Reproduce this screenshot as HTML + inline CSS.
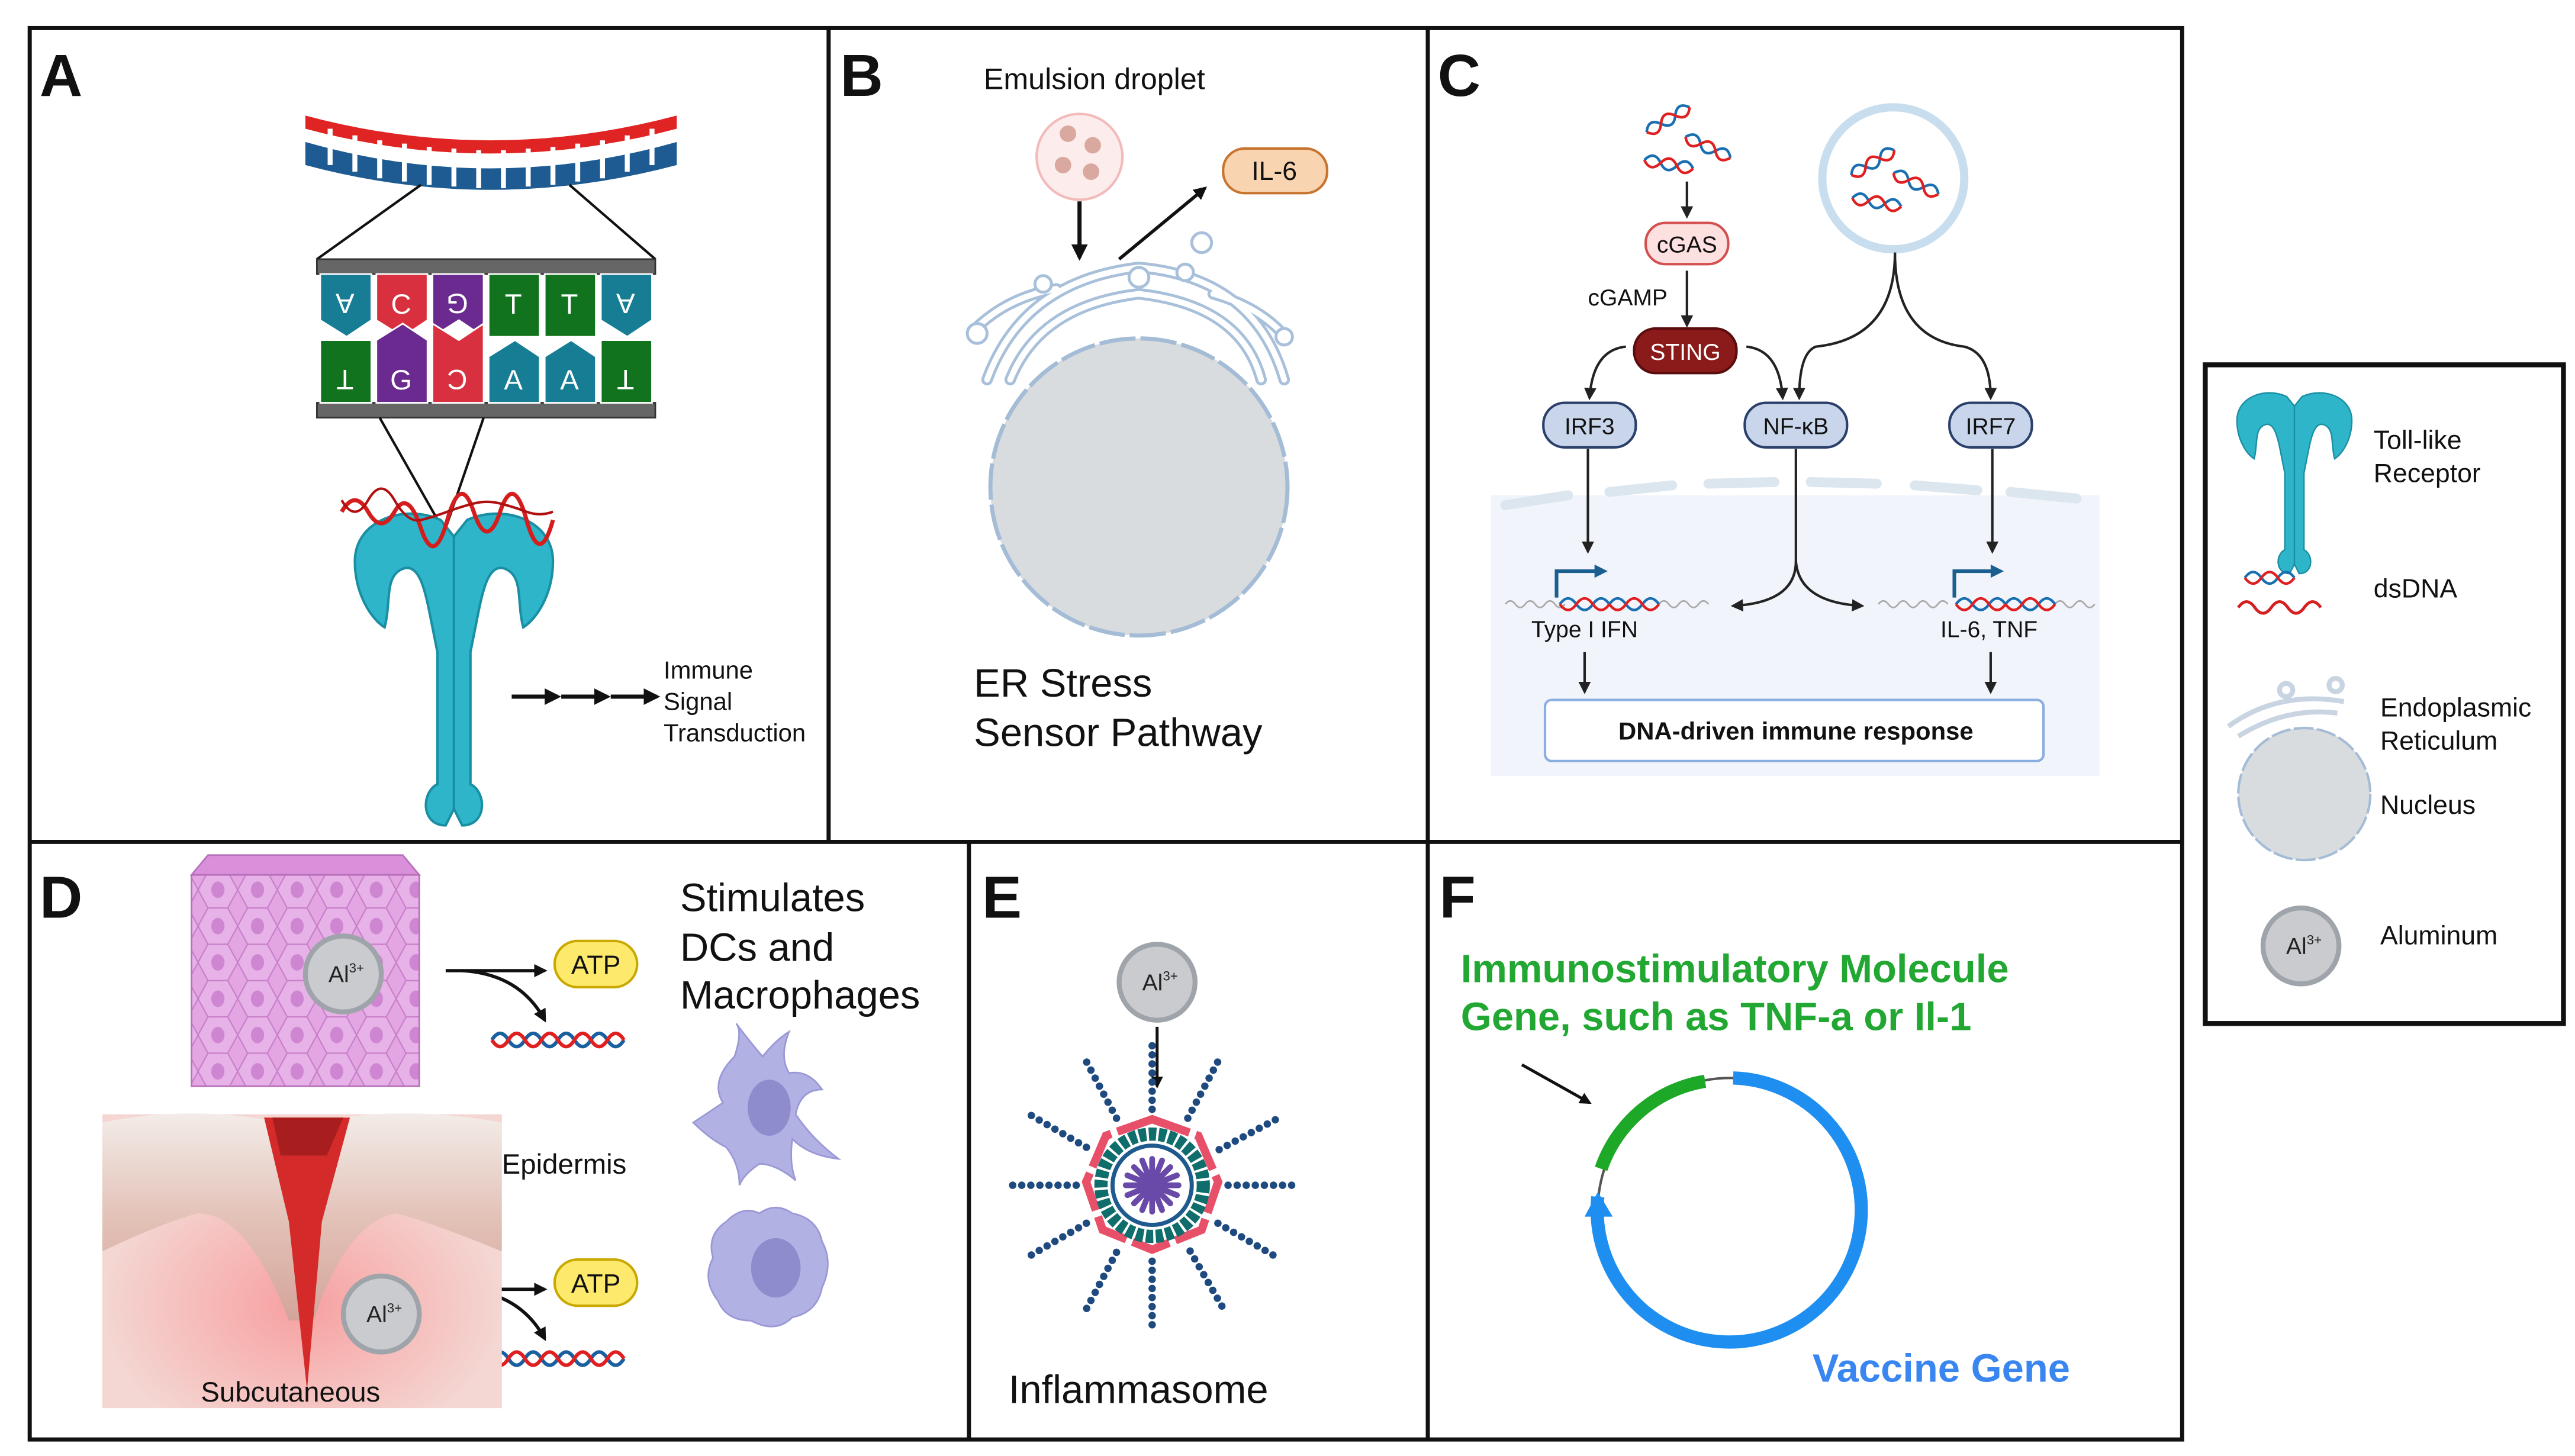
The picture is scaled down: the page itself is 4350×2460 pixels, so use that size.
<!DOCTYPE html>
<html><head><meta charset="utf-8"><style>
html,body{margin:0;padding:0;background:#fff;}
svg{display:block;}
text{font-family:"Liberation Sans",sans-serif;}
</style></head><body>
<svg width="4350" height="2460" viewBox="0 0 1560 882" preserveAspectRatio="none" xmlns="http://www.w3.org/2000/svg">
<defs>
<marker id="ah" viewBox="0 0 10 10" refX="8" refY="5" markerWidth="5" markerHeight="5" orient="auto"><path d="M0,0 L10,5 L0,10 z" fill="#222"/></marker>
<marker id="ahb" viewBox="0 0 10 10" refX="8" refY="5" markerWidth="4" markerHeight="4" orient="auto"><path d="M0,0 L10,5 L0,10 z" fill="#111"/></marker>
<pattern id="cells" width="24" height="22" patternUnits="userSpaceOnUse">
<rect width="24" height="22" fill="#e3a6e3"/>
<path d="M0,11 L6,0 L18,0 L24,11 L18,22 L6,22 Z" fill="#e7b2e7" stroke="#c77fc9" stroke-width="0.8"/>
<ellipse cx="12" cy="11" rx="4" ry="5" fill="#cf86d2"/>
</pattern>
<radialGradient id="skinr" cx="0.5" cy="0.65" r="0.5"><stop offset="0" stop-color="#f7a0a0"/><stop offset="1" stop-color="#f4d6d2"/></radialGradient>
<linearGradient id="epi" x1="0" y1="0" x2="0" y2="1"><stop offset="0" stop-color="#f3ece8"/><stop offset="0.5" stop-color="#e3c2b8"/><stop offset="1" stop-color="#d4a49a"/></linearGradient>
<g id="dna">
<path d="M0,0 q5,-8 10,0 t10,0 t10,0 t10,0 t10,0 t10,0 t10,0 t10,0" fill="none" stroke="#1a5fa0" stroke-width="2.2"/>
<path d="M0,0 q5,8 10,0 t10,0 t10,0 t10,0 t10,0 t10,0 t10,0 t10,0" fill="none" stroke="#e02020" stroke-width="2.2"/>
</g>
<g id="sdna">
<path d="M0,0 q5,-7 10,0 t10,0 t10,0" fill="none" stroke="#1a6fb0" stroke-width="1.6"/>
<path d="M0,0 q5,7 10,0 t10,0 t10,0" fill="none" stroke="#e02020" stroke-width="1.6"/>
</g>
<g id="al">
<circle r="23" fill="#c9cbcf" stroke="#9fa4aa" stroke-width="3"/>
<text x="-9" y="5" font-size="14" fill="#222">Al<tspan font-size="8" dy="-6">3+</tspan></text>
</g>
<g id="tlr">
<path d="M-8,-60 C-30,-70 -60,-60 -60,-35 C-60,-15 -50,0 -42,5 C-38,-10 -42,-25 -32,-30 C-22,-35 -18,-20 -15,-5 L-10,20 L-10,100 C-20,105 -20,125 -5,125 L0,115 L5,125 C20,125 20,105 10,100 L10,20 L15,-5 C18,-20 22,-35 32,-30 C42,-25 38,-10 42,5 C50,0 60,-15 60,-35 C60,-60 30,-70 8,-60 L0,-50 Z" fill="#2fb5c9" stroke="#1a8fa3" stroke-width="1.5"/>
<path d="M0,-50 L0,115" stroke="#1a8fa3" stroke-width="1.5"/>
</g>
</defs>

<g fill="none" stroke="#111" stroke-width="2.5">
<rect x="18" y="17" width="1304" height="855"/>
<line x1="18" y1="510" x2="1322" y2="510"/>
<line x1="502" y1="17" x2="502" y2="510"/>
<line x1="865" y1="17" x2="865" y2="872"/>
<line x1="587" y1="510" x2="587" y2="872"/>
<rect x="1336" y="221" width="217" height="399" stroke-width="3"/>
</g>
<g font-weight="bold" font-size="36" fill="#111">
<text x="24" y="58">A</text><text x="509" y="58">B</text><text x="871" y="58">C</text>
<text x="24" y="556">D</text><text x="595" y="556">E</text><text x="872" y="556">F</text>
</g>

<!-- Panel A -->
<path d="M185,70 Q297,100 410,70 L410,78 Q297,108 185,78 Z" fill="#e02424"/>
<path d="M185,86 Q297,118 410,86 L410,100 Q297,130 185,100 Z" fill="#1e5b92"/>
<g stroke="#fff" stroke-width="3">
<line x1="200" y1="78" x2="200" y2="100"/><line x1="215" y1="82" x2="215" y2="104"/><line x1="230" y1="85" x2="230" y2="108"/><line x1="245" y1="87" x2="245" y2="110"/><line x1="260" y1="89" x2="260" y2="112"/><line x1="275" y1="90" x2="275" y2="113"/><line x1="290" y1="91" x2="290" y2="114"/><line x1="305" y1="91" x2="305" y2="114"/><line x1="320" y1="90" x2="320" y2="113"/><line x1="335" y1="89" x2="335" y2="112"/><line x1="350" y1="87" x2="350" y2="110"/><line x1="365" y1="85" x2="365" y2="108"/><line x1="380" y1="82" x2="380" y2="104"/><line x1="395" y1="78" x2="395" y2="100"/>
</g>
<line x1="255" y1="112" x2="192" y2="157" stroke="#111" stroke-width="1.5"/>
<line x1="345" y1="112" x2="397" y2="157" stroke="#111" stroke-width="1.5"/>
<rect x="192" y="157" width="205" height="9" fill="#666" stroke="#333"/>
<rect x="192" y="244" width="205" height="9" fill="#666" stroke="#333"/>
<g stroke="#fff" stroke-width="1">
<path d="M194,166h31v28l-15,10l-16,-10z" fill="#167d95"/>
<path d="M228,166h31v28l-15,10l-16,-10z" fill="#d8303f"/>
<path d="M262,166h31v38l-15,-10l-16,10z" fill="#6a2a8f"/>
<path d="M296,166h31v38h-31z" fill="#11731e"/>
<path d="M330,166h31v38h-31z" fill="#11731e"/>
<path d="M364,166h31v28l-15,10l-16,-10z" fill="#167d95"/>
<path d="M194,206h31v38h-31z" fill="#11731e"/>
<path d="M228,206l16,-10l15,10v38h-31z" fill="#6a2a8f"/>
<path d="M262,196l16,10l15,-10v48h-31z" fill="#d8303f"/>
<path d="M296,216l16,-10l15,10v28h-31z" fill="#167d95"/>
<path d="M330,216l16,-10l15,10v28h-31z" fill="#167d95"/>
<path d="M364,206h31v38h-31z" fill="#11731e"/>
</g>
<g fill="#fff" font-size="17" text-anchor="middle">
<text x="209" y="190" transform="rotate(180 209 184)">A</text><text x="243" y="190">C</text><text x="277" y="190" transform="rotate(180 277 184)">G</text><text x="311" y="190">T</text><text x="345" y="190">T</text><text x="379" y="190" transform="rotate(180 379 184)">A</text>
<text x="209" y="236" transform="rotate(180 209 230)">T</text><text x="243" y="236">G</text><text x="277" y="236" transform="rotate(180 277 230)">C</text><text x="311" y="236">A</text><text x="345" y="236">A</text><text x="379" y="236" transform="rotate(180 379 230)">T</text>
</g>
<line x1="230" y1="253" x2="268" y2="320" stroke="#111" stroke-width="1.5"/>
<line x1="293" y1="253" x2="270" y2="320" stroke="#111" stroke-width="1.5"/>
<use href="#tlr" x="275" y="375"/>
<path d="M207,310 q8,-14 16,0 t16,0 t16,10 t16,-5 t16,-5 t16,0 t16,5 t16,0" fill="none" stroke="#d41e1e" stroke-width="2.5"/>
<path d="M207,303 q8,14 16,0 t16,0 t16,12 t16,-5 t16,-5 t16,0 t16,5 t16,0" fill="none" stroke="#b01010" stroke-width="1.5"/>
<g stroke="#111" stroke-width="2.5" marker-end="url(#ahb)">
<line x1="310" y1="422" x2="338" y2="422"/><line x1="340" y1="422" x2="368" y2="422"/><line x1="370" y1="422" x2="398" y2="422"/>
</g>
<g font-size="15" fill="#111"><text x="402" y="411">Immune</text><text x="402" y="430">Signal</text><text x="402" y="449">Transduction</text></g>

<!-- Panel B -->
<text x="596" y="54" font-size="18" fill="#111">Emulsion droplet</text>
<circle cx="654" cy="95" r="26" fill="#fdecec" stroke="#f2baba" stroke-width="1.5"/>
<g fill="#d9a89e"><circle cx="647" cy="81" r="5"/><circle cx="662" cy="88" r="5"/><circle cx="644" cy="100" r="5"/><circle cx="661" cy="104" r="5"/></g>
<line x1="654" y1="122" x2="654" y2="156" stroke="#111" stroke-width="2.5" marker-end="url(#ahb)"/>
<line x1="678" y1="157" x2="730" y2="114" stroke="#111" stroke-width="2" marker-end="url(#ahb)"/>
<rect x="741" y="90" width="63" height="27" rx="13" fill="#f8d5b0" stroke="#c8742f" stroke-width="1.5"/>
<text x="772" y="109" font-size="16" text-anchor="middle" fill="#111">IL-6</text>
<g fill="none" stroke="#a9c0da" stroke-width="7" stroke-linecap="round">
<path d="M598,230 Q620,170 690,162 Q760,168 778,230"/>
<path d="M612,230 Q630,185 690,178 Q752,185 764,230"/>
<path d="M590,200 Q610,180 640,175"/><path d="M735,178 Q760,185 775,200"/>
</g>
<g fill="none" stroke="#fff" stroke-width="3.5" stroke-linecap="round">
<path d="M598,230 Q620,170 690,162 Q760,168 778,230"/>
<path d="M612,230 Q630,185 690,178 Q752,185 764,230"/>
<path d="M590,200 Q610,180 640,175"/><path d="M735,178 Q760,185 775,200"/>
</g>
<g fill="#fff" stroke="#a9c0da" stroke-width="1.8"><circle cx="592" cy="202" r="6"/><circle cx="690" cy="168" r="6"/><circle cx="728" cy="147" r="6"/><circle cx="718" cy="165" r="5"/><circle cx="632" cy="172" r="5"/><circle cx="778" cy="204" r="5"/></g>
<circle cx="690" cy="295" r="90" fill="#d9dcdf" stroke="#a4bcd6" stroke-width="2.5" stroke-dasharray="22 3"/>
<text x="590" y="422" font-size="24" fill="#111">ER Stress</text>
<text x="590" y="452" font-size="24" fill="#111">Sensor Pathway</text>

<!-- Panel C -->
<rect x="903" y="300" width="369" height="170" fill="#f1f5fb"/>
<g fill="none" stroke="#dce6ef" stroke-width="6" stroke-linecap="round">
<path d="M912,306 L950,300"/><path d="M975,298 L1013,294"/><path d="M1035,293 L1075,292"/><path d="M1097,292 L1137,293"/><path d="M1160,294 L1198,297"/><path d="M1218,298 L1258,302"/>
</g>
<use href="#sdna" x="996" y="74" transform="rotate(-30 1008 74)"/>
<use href="#sdna" x="1020" y="88" transform="rotate(25 1032 88)"/>
<use href="#sdna" x="996" y="99" transform="rotate(10 1008 99)"/>
<circle cx="1147" cy="108" r="43" fill="#fff" stroke="#c8deee" stroke-width="5"/>
<use href="#sdna" x="1120" y="100" transform="rotate(-30 1132 100)"/>
<use href="#sdna" x="1146" y="110" transform="rotate(25 1158 110)"/>
<use href="#sdna" x="1122" y="122" transform="rotate(10 1134 122)"/>
<g stroke="#222" stroke-width="1.5" fill="none" marker-end="url(#ah)">
<line x1="1022" y1="110" x2="1022" y2="131"/>
<line x1="1022" y1="164" x2="1022" y2="197"/>
<path d="M985,210 Q965,212 963,241"/>
<path d="M1058,210 Q1078,212 1080,241"/>
<path d="M1148,153 Q1148,205 1100,210 Q1090,214 1090,241"/>
<path d="M1148,153 Q1148,205 1190,210 Q1206,214 1206,241"/>
<line x1="962" y1="272" x2="962" y2="334"/>
<line x1="1207" y1="272" x2="1207" y2="334"/>
<path d="M1088,272 L1088,340 Q1088,365 1050,367"/>
<path d="M1088,340 Q1090,365 1128,367"/>
<line x1="960" y1="395" x2="960" y2="419"/>
<line x1="1206" y1="395" x2="1206" y2="419"/>
</g>
<rect x="997" y="135" width="50" height="25" rx="12" fill="#fde0e0" stroke="#d45050" stroke-width="1.5"/>
<text x="1022" y="153" font-size="14" text-anchor="middle" fill="#111">cGAS</text>
<text x="962" y="185" font-size="14" fill="#111">cGAMP</text>
<rect x="990" y="199" width="62" height="27" rx="13" fill="#8b1a1a" stroke="#5a0d0d" stroke-width="1.5"/>
<text x="1021" y="218" font-size="14" text-anchor="middle" fill="#fff">STING</text>
<g fill="#c9d5ea" stroke="#2a3f6a" stroke-width="1.5">
<rect x="935" y="244" width="56" height="27" rx="13"/><rect x="1057" y="244" width="62" height="27" rx="13"/><rect x="1181" y="244" width="50" height="27" rx="13"/>
</g>
<g font-size="14" text-anchor="middle" fill="#111"><text x="963" y="263">IRF3</text><text x="1088" y="263">NF-κB</text><text x="1206" y="263">IRF7</text></g>
<g fill="none" stroke="#aaa" stroke-width="1"><path d="M912,366 q3,-4 6,0 t6,0 t6,0 t6,0 t6,0 t6,0 M1005,366 q3,-4 6,0 t6,0 t6,0 t6,0 t6,0 M1138,366 q3,-4 6,0 t6,0 t6,0 t6,0 t6,0 t6,0 t6,0 M1245,366 q3,-4 6,0 t6,0 t6,0 t6,0"/></g>
<use href="#sdna" x="945" y="366"/><use href="#sdna" x="975" y="366"/>
<use href="#sdna" x="1185" y="366"/><use href="#sdna" x="1215" y="366"/>
<g fill="none" stroke="#1a5f90" stroke-width="2.2"><path d="M943,362 V346 H968"/><path d="M1184,362 V346 H1208"/></g>
<path d="M966,342 L974,346 L966,350Z M1206,342 L1214,346 L1206,350Z" fill="#1a5f90"/>
<text x="960" y="386" font-size="14" text-anchor="middle" fill="#111">Type I IFN</text>
<text x="1205" y="386" font-size="14" text-anchor="middle" fill="#111">IL-6, TNF</text>
<rect x="936" y="424" width="302" height="37" rx="4" fill="#fff" stroke="#8aaee0" stroke-width="1.5"/>
<text x="1088" y="448" font-size="15" font-weight="bold" text-anchor="middle" fill="#111">DNA-driven immune response</text>

<!-- Panel D -->
<path d="M116,530 L126,518 L244,518 L254,530 Z" fill="#d98fd9" stroke="#b870bb"/>
<rect x="116" y="530" width="138" height="128" fill="url(#cells)" stroke="#b870bb"/>
<use href="#al" x="208" y="590"/>
<g stroke="#111" stroke-width="2" fill="none" marker-end="url(#ahb)">
<path d="M270,588 L330,588"/><path d="M280,588 Q315,590 330,618"/>
<path d="M270,781 L330,781"/><path d="M280,781 Q315,783 330,811"/>
</g>
<rect x="336" y="570" width="50" height="28" rx="14" fill="#fde96b" stroke="#c9a800" stroke-width="1.5"/>
<text x="361" y="590" font-size="16" text-anchor="middle" fill="#111">ATP</text>
<rect x="336" y="763" width="50" height="28" rx="14" fill="#fde96b" stroke="#c9a800" stroke-width="1.5"/>
<text x="361" y="783" font-size="16" text-anchor="middle" fill="#111">ATP</text>
<use href="#dna" x="298" y="630"/><use href="#dna" x="298" y="823"/>
<rect x="62" y="675" width="242" height="178" fill="url(#skinr)"/>
<path d="M62,680 Q110,670 160,678 L200,678 Q250,670 304,680 L304,758 Q260,740 240,735 Q210,740 190,800 L175,800 Q150,735 120,735 Q100,740 62,758 Z" fill="url(#epi)"/>
<path d="M160,677 L212,677 L195,740 L186,842 L175,740 Z" fill="#d42a2a"/>
<path d="M165,677 L208,677 L198,700 L170,700 Z" fill="#a81e1e"/>
<text x="304" y="711" font-size="17" fill="#111">Epidermis</text>
<use href="#al" x="231" y="796"/>
<text x="176" y="849" font-size="17" text-anchor="middle" fill="#111">Subcutaneous</text>
<g font-size="24" fill="#111"><text x="412" y="552">Stimulates</text><text x="412" y="582">DCs and</text><text x="412" y="611">Macrophages</text></g>
<g fill="#b2b1e3" stroke="#9a98d6" stroke-width="1">
<path d="M445,640 Q450,625 446,620 Q455,632 462,640 Q470,630 478,625 Q472,640 478,650 Q490,648 498,660 Q485,660 482,675 Q492,690 508,702 Q490,700 480,690 Q478,705 482,715 Q470,705 460,705 Q450,712 448,718 Q448,705 440,695 Q430,690 420,680 Q432,672 438,668 Q430,655 445,640 Z"/>
<path d="M440,740 Q450,730 460,735 Q470,728 480,735 Q495,738 498,752 Q505,765 498,780 Q495,795 480,798 Q470,808 455,800 Q440,800 435,788 Q425,775 432,762 Q428,748 440,740 Z"/>
</g>
<ellipse cx="466" cy="671" rx="13" ry="17" fill="#8e8ccc"/>
<ellipse cx="470" cy="768" rx="15" ry="18" fill="#8e8ccc"/>

<!-- Panel E -->
<use href="#al" x="701" y="595"/>
<line x1="701" y1="622" x2="701" y2="658" stroke="#111" stroke-width="1.8" marker-end="url(#ahb)"/>
<g stroke="#1f4a80" stroke-width="4.5" stroke-linecap="round" stroke-dasharray="0 5.5" fill="none">
<g id="ray"><line x1="698" y1="672" x2="698" y2="632"/></g>
<use href="#ray" transform="rotate(28 698 718)"/><use href="#ray" transform="rotate(62 698 718)"/><use href="#ray" transform="rotate(90 698 718)"/><use href="#ray" transform="rotate(120 698 718)"/><use href="#ray" transform="rotate(150 698 718)"/><use href="#ray" transform="rotate(180 698 718)"/><use href="#ray" transform="rotate(208 698 718)"/><use href="#ray" transform="rotate(240 698 718)"/><use href="#ray" transform="rotate(270 698 718)"/><use href="#ray" transform="rotate(300 698 718)"/><use href="#ray" transform="rotate(332 698 718)"/>
</g>
<polygon points="698,678 726,688 738,716 728,745 698,757 668,745 658,716 670,688" fill="none" stroke="#e8506a" stroke-width="5" stroke-dasharray="24 4"/>
<circle cx="698" cy="718" r="31" fill="none" stroke="#0f6e6b" stroke-width="8" stroke-dasharray="4.5 1.5"/>
<circle cx="698" cy="718" r="24" fill="#fff" stroke="#1f5a8f" stroke-width="2.5"/>
<g stroke="#6a4aa8" stroke-width="3.5" stroke-linecap="round">
<line x1="698" y1="702" x2="698" y2="734"/><line x1="682" y1="718" x2="714" y2="718"/><line x1="687" y1="707" x2="709" y2="729"/><line x1="709" y1="707" x2="687" y2="729"/>
<line x1="692" y1="703" x2="704" y2="733"/><line x1="704" y1="703" x2="692" y2="733"/><line x1="683" y1="712" x2="713" y2="724"/><line x1="683" y1="724" x2="713" y2="712"/>
</g>
<text x="611" y="850" font-size="24" fill="#111">Inflammasome</text>

<!-- Panel F -->
<g font-size="24" font-weight="bold" fill="#22a832"><text x="885" y="595">Immunostimulatory Molecule</text><text x="885" y="624">Gene, such as TNF-a or Il-1</text></g>
<circle cx="1048" cy="733" r="80" fill="none" stroke="#555" stroke-width="1.5"/>
<path d="M1050,653 A80,80 0 1 1 968,725" fill="none" stroke="#1e8ff0" stroke-width="8"/>
<path d="M970,708 A80,80 0 0 1 1033,655" fill="none" stroke="#1ea828" stroke-width="8"/>
<path d="M960,737 L968,722 L977,737 Z" fill="#1e8ff0"/>
<line x1="922" y1="645" x2="963" y2="668" stroke="#111" stroke-width="1.8" marker-end="url(#ahb)"/>
<text x="1098" y="837" font-size="24" font-weight="bold" fill="#3a86f0">Vaccine Gene</text>

<!-- Legend -->
<use href="#tlr" transform="translate(1390,275) scale(0.58)"/>
<g font-size="16" fill="#111"><text x="1438" y="272">Toll-like</text><text x="1438" y="292">Receptor</text><text x="1438" y="362">dsDNA</text>
<text x="1442" y="434">Endoplasmic</text><text x="1442" y="454">Reticulum</text><text x="1442" y="493">Nucleus</text><text x="1442" y="572">Aluminum</text></g>
<use href="#sdna" x="1360" y="350"/>
<path d="M1356,368 q5,-7 10,0 t10,0 t10,0 t10,0 t10,0" fill="none" stroke="#d42020" stroke-width="1.8"/>
<g fill="none" stroke="#c9d4e2" stroke-width="3"><path d="M1350,440 Q1380,418 1420,425"/><path d="M1356,446 Q1385,428 1416,432"/><circle cx="1385" cy="418" r="4"/><circle cx="1415" cy="415" r="4"/></g>
<circle cx="1396" cy="481" r="40" fill="#d9dcdf" stroke="#a4bcd6" stroke-width="1.5" stroke-dasharray="12 2"/>
<use href="#al" x="1394" y="573"/>
</svg>
</body></html>
